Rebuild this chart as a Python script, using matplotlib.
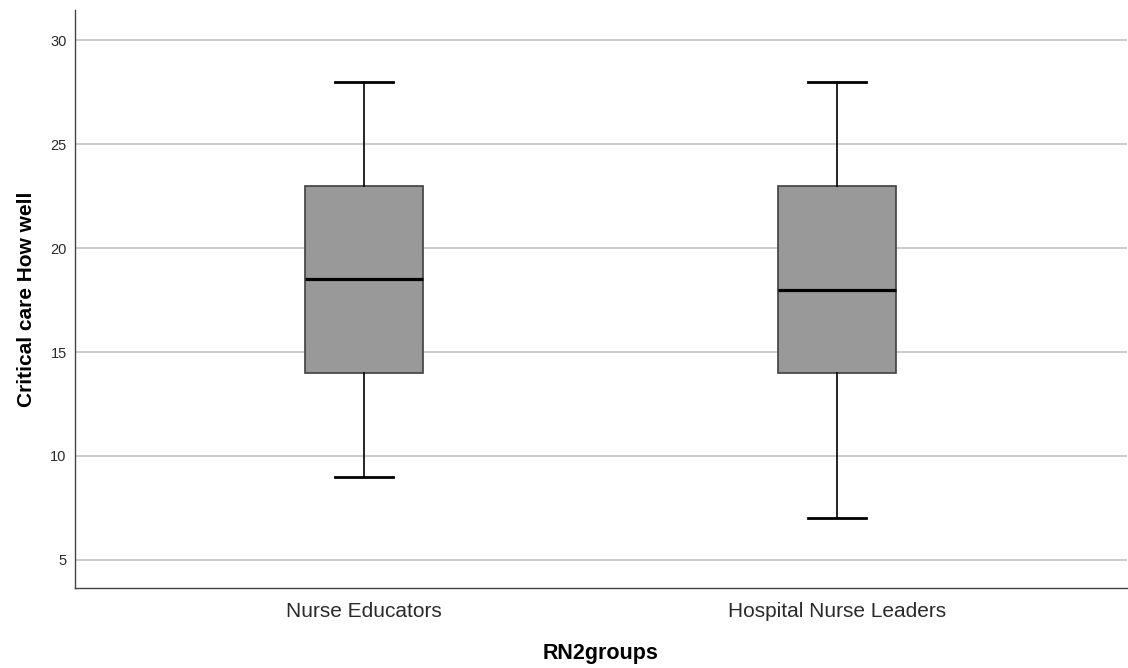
import matplotlib
matplotlib.use("Agg")
import matplotlib.pyplot as plt

categories = ["Nurse Educators", "Hospital Nurse Leaders"]
whislo = [9, 7]
q1 = [14, 14]
med = [18.5, 18]
q3 = [23, 23]
whishi = [28, 28]

plt.rcParams['font.family'] = ['Liberation Sans', 'DejaVu Sans']

fig = plt.figure(figsize=(11.28, 6.68), dpi=100)
ax = fig.add_axes([75/1128, 80/668, 1052/1128, 578/668])

stats = []
for i, c in enumerate(categories):
    stats.append(dict(label=c, whislo=whislo[i], q1=q1[i], med=med[i],
                      q3=q3[i], whishi=whishi[i], fliers=[]))

ax.set_axisbelow(True)
ax.yaxis.grid(True, color='#c8c8c8', linewidth=1.3)
ax.bxp(stats, positions=[0, 1], widths=0.25, capwidths=0.123, patch_artist=True,
       showfliers=False,
       boxprops=dict(facecolor='#999999', edgecolor='#404040', linewidth=1.2),
       medianprops=dict(color='black', linewidth=2.3),
       whiskerprops=dict(color='black', linewidth=1.2),
       capprops=dict(color='black', linewidth=2.0))

ax.set_xlim(-0.611, 1.613)
ax.set_ylim(3.65, 31.45)
ax.set_yticks([5, 10, 15, 20, 25, 30])
ax.tick_params(axis='both', length=0)
ax.tick_params(axis='y', labelsize=10.5, pad=6, colors='#2a2a2a')
ax.tick_params(axis='x', labelsize=15, pad=10, colors='#2a2a2a')
for s in ['top', 'right']:
    ax.spines[s].set_visible(False)
for s in ['left', 'bottom']:
    ax.spines[s].set_color('#444444')
    ax.spines[s].set_linewidth(1.0)

ax.set_ylabel("Critical care How well", fontsize=15, fontweight='bold', labelpad=10)
ax.set_xlabel("RN2groups", fontsize=15.5, fontweight='bold', labelpad=16)

fig.savefig("out.png", dpi=100)
